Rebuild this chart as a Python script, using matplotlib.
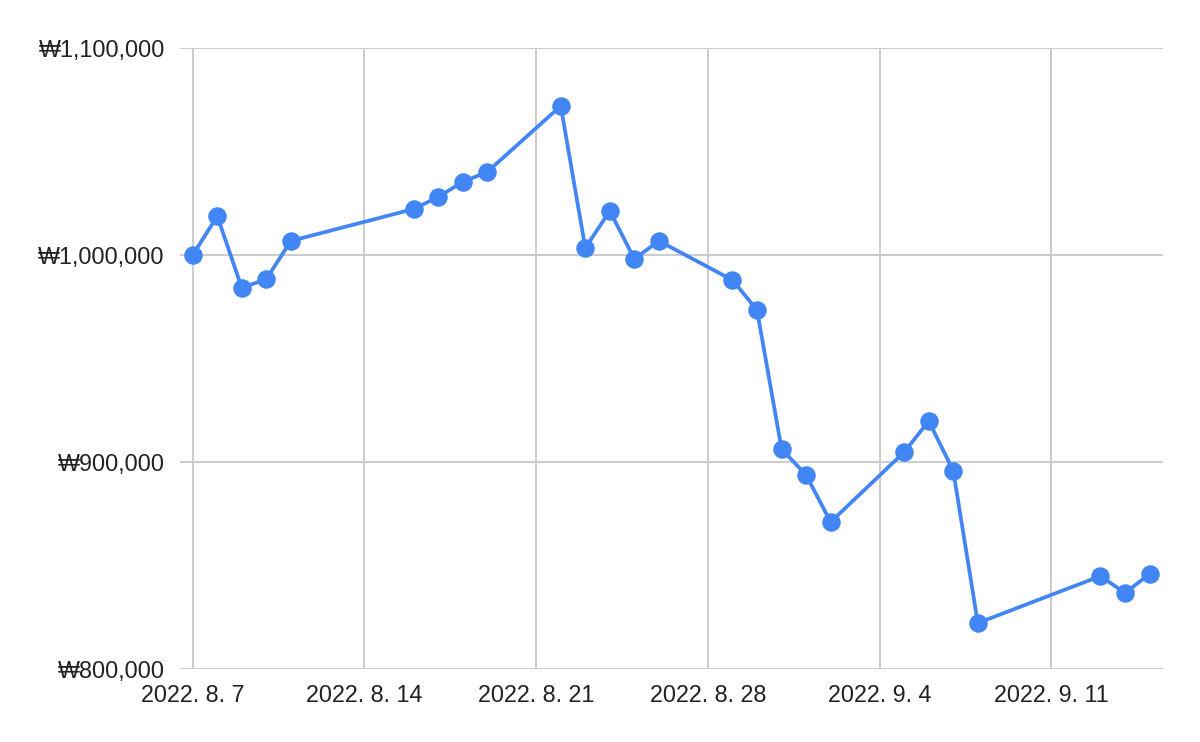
import matplotlib
matplotlib.use("Agg")
import matplotlib.pyplot as plt
import matplotlib.dates as mdates
from matplotlib.ticker import FuncFormatter, FixedLocator
import numpy as np
import datetime as dt

plt.rcParams['font.family'] = ['Liberation Sans', 'DejaVu Sans']

dates = ["2022-08-07", "2022-08-08", "2022-08-09", "2022-08-10", "2022-08-11",
         "2022-08-16", "2022-08-17", "2022-08-18", "2022-08-19", "2022-08-22",
         "2022-08-23", "2022-08-24", "2022-08-25", "2022-08-26", "2022-08-29",
         "2022-08-30", "2022-08-31", "2022-09-01", "2022-09-02", "2022-09-05",
         "2022-09-06", "2022-09-07", "2022-09-08", "2022-09-13", "2022-09-14",
         "2022-09-15"]
values = [1000000, 1018800, 984100, 988400, 1006800,
          1022200, 1028000, 1035300, 1040100, 1072000,
          1003400, 1021300, 998100, 1006800, 987900,
          973400, 906300, 893700, 871000, 904800,
          919800, 895700, 822200, 844900, 836700,
          845900]
x_ticks = ["2022-08-07", "2022-08-14", "2022-08-21", "2022-08-28", "2022-09-04", "2022-09-11"]
y_ticks = [800000, 900000, 1000000, 1100000]

xd = [dt.datetime.strptime(d, "%Y-%m-%d") for d in dates]
xt = [dt.datetime.strptime(d, "%Y-%m-%d") for d in x_ticks]

fig = plt.figure(figsize=(12, 7.42), dpi=100)
ax = fig.add_axes([0.15, 0.0984, 0.8192, 0.8369])

ax.plot(xd, values, color="#4285F4", lw=2.7, marker="o", markersize=12.3, zorder=3,
        solid_joinstyle="round", clip_on=False)

ax.set_xlim(xd[0] - dt.timedelta(days=0.52), xd[-1] + dt.timedelta(days=0.55))
ax.set_ylim(800000, 1100000)
ax.xaxis.set_major_locator(FixedLocator([mdates.date2num(t) for t in xt]))
ax.set_xticklabels([f"{t.year}. {t.month}. {t.day}" for t in xt])
ax.set_yticks(y_ticks)
ax.yaxis.set_major_formatter(FuncFormatter(lambda v, p: "₩{:,.0f}".format(v)))

ax.grid(True, color="#cccccc", lw=1.4, zorder=0)
ax.set_axisbelow(True)
for s in ax.spines.values():
    s.set_visible(False)
ax.tick_params(axis="both", length=0, labelsize=16.8, colors="#222222")
ax.tick_params(axis="y", pad=11)
ax.tick_params(axis="x", pad=11)

fig.savefig("out.png", dpi=100, facecolor="white")
